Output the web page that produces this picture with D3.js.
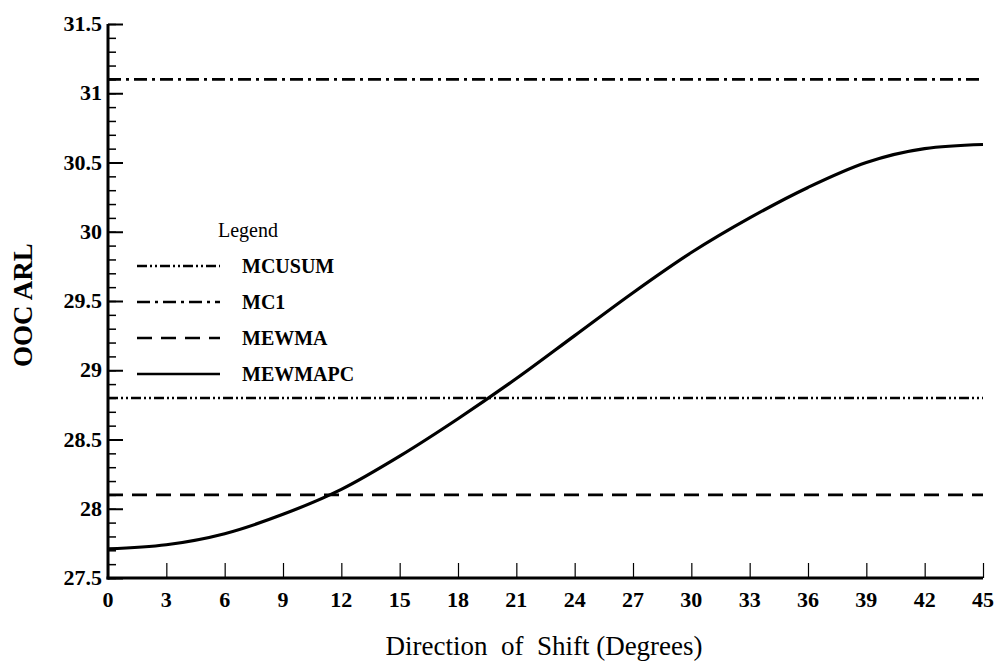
<!DOCTYPE html>
<html>
<head>
<meta charset="utf-8">
<script src="https://cdn.jsdelivr.net/npm/d3@7"></script>
</head>
<body style="margin:0; font-family:'Liberation Serif'">
<div id="chart"></div>
<script>
// Data
const shiftDegrees = [0, 3, 6, 9, 12, 15, 18, 21, 24, 27, 30, 33, 36, 39, 42, 45];
const mewmapcArl = [27.71, 27.74, 27.82, 27.96, 28.14, 28.38, 28.65, 28.94, 29.25, 29.56, 29.85, 30.1, 30.32, 30.5, 30.6, 30.63];
const seriesNames = ["MCUSUM", "MC1", "MEWMA", "MEWMAPC"];
const constantArl = { MCUSUM: 28.8, MC1: 31.1, MEWMA: 28.1 };
const yTicks = [27.5, 28, 28.5, 29, 29.5, 30, 30.5, 31, 31.5];
const xTicks = [0, 3, 6, 9, 12, 15, 18, 21, 24, 27, 30, 33, 36, 39, 42, 45];

// line styles per series
const dashes = {
  MCUSUM: "10,3,2,3,2,3",
  MC1: "13,5,3,5",
  MEWMA: "15,9",
  MEWMAPC: null
};

// Dimensions
const W = 995;
const H = 664;
const margin = { top: 24, right: 12, bottom: 86, left: 108 };
const innerW = W - margin.left - margin.right;
const innerH = H - margin.top - margin.bottom;

const svg = d3.select("#chart")
  .append("svg")
  .attr("width", W)
  .attr("height", H);

const g = svg.append("g")
  .attr("transform", `translate(${margin.left}, ${margin.top})`);

// Scales
const x = d3.scaleLinear().domain([0, 45]).range([0, innerW]);
const y = d3.scaleLinear().domain([27.5, 31.5]).range([innerH, 0]);

// y minor ticks (inside)
g.append("g")
  .call(d3.axisRight(y).tickValues(d3.range(27.5, 31.51, 0.1)).tickSize(8).tickFormat(""))
  .call(a => a.select(".domain").remove())
  .selectAll("line").attr("stroke-width", 1.5);

// y major ticks
const yAxis = g.append("g")
  .call(d3.axisRight(y).tickValues(yTicks).tickSize(15).tickFormat(""));
yAxis.select(".domain").remove();
yAxis.selectAll("line").attr("stroke-width", 2);

// x ticks (inside)
const xAxis = g.append("g")
  .attr("transform", `translate(0, ${innerH})`)
  .call(d3.axisTop(x).tickValues(xTicks).tickSize(15).tickFormat(""));
xAxis.select(".domain").remove();
xAxis.selectAll("line").attr("stroke-width", 1.2);

// axis lines
g.append("line")
  .attr("x1", 0).attr("x2", 0)
  .attr("y1", y(31.5)).attr("y2", y(27.5) + 1.5)
  .attr("stroke", "#000").attr("stroke-width", 3);
g.append("line")
  .attr("x1", -1.5).attr("x2", x(45))
  .attr("y1", y(27.5)).attr("y2", y(27.5))
  .attr("stroke", "#000").attr("stroke-width", 3);

// constant reference lines
Object.keys(constantArl).forEach(name => {
  g.append("line")
    .attr("x1", 0).attr("x2", x(45))
    .attr("y1", y(constantArl[name])).attr("y2", y(constantArl[name]))
    .attr("stroke", "#000")
    .attr("stroke-width", 2.6)
    .attr("stroke-dasharray", dashes[name]);
});

// MEWMAPC curve
const line = d3.line()
  .x((d, i) => x(shiftDegrees[i]))
  .y(d => y(d))
  .curve(d3.curveMonotoneX);

g.append("path")
  .datum(mewmapcArl)
  .attr("d", line)
  .attr("fill", "none")
  .attr("stroke", "#000")
  .attr("stroke-width", 3.2);

// tick labels
g.selectAll(".ylab")
  .data(yTicks)
  .enter()
  .append("text")
  .attr("class", "ylab")
  .attr("x", -6)
  .attr("y", d => y(d) + 7)
  .attr("text-anchor", "end")
  .style("font-family", "'Liberation Serif'")
  .style("font-size", "22px")
  .style("font-weight", "bold")
  .text(d => d);

g.selectAll(".xlab")
  .data(xTicks)
  .enter()
  .append("text")
  .attr("class", "xlab")
  .attr("x", d => x(d))
  .attr("y", innerH + 29)
  .attr("text-anchor", "middle")
  .style("font-family", "'Liberation Serif'")
  .style("font-size", "22px")
  .style("font-weight", "bold")
  .text(d => d);

// Legend
svg.append("text")
  .attr("x", 218)
  .attr("y", 237)
  .style("font-family", "'Liberation Serif'")
  .style("font-size", "20px")
  .text("Legend");

const legend = svg.selectAll(".legend")
  .data(seriesNames)
  .enter()
  .append("g")
  .attr("class", "legend")
  .attr("transform", (d, i) => `translate(137, ${266 + i * 36})`);

legend.append("line")
  .attr("x1", 0).attr("x2", 83)
  .attr("y1", 0).attr("y2", 0)
  .attr("stroke", "#000")
  .attr("stroke-width", 2.6)
  .attr("stroke-dasharray", d => dashes[d]);

legend.append("text")
  .attr("x", 105)
  .attr("y", 7)
  .style("font-family", "'Liberation Serif'")
  .style("font-size", "20px")
  .style("font-weight", "bold")
  .text(d => d);

// Axis titles
svg.append("text")
  .attr("x", 544)
  .attr("y", 655)
  .attr("text-anchor", "middle")
  .style("font-family", "'Liberation Serif'")
  .style("font-size", "27px")
  .style("white-space", "pre")
  .text("Direction  of  Shift (Degrees)");

svg.append("text")
  .attr("transform", "translate(32, 305) rotate(-90)")
  .attr("text-anchor", "middle")
  .style("font-family", "'Liberation Serif'")
  .style("font-size", "27px")
  .style("font-weight", "bold")
  .text("OOC ARL");
</script>
</body>
</html>
